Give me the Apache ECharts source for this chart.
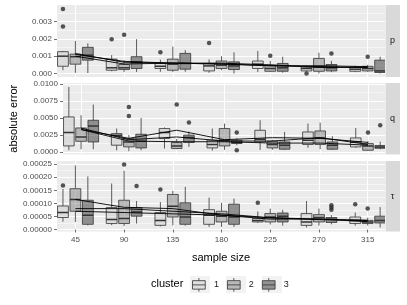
<!DOCTYPE html>
<html><head><meta charset="utf-8">
<script src="https://cdn.jsdelivr.net/npm/echarts@6/dist/echarts.min.js"></script>
<style>html,body{margin:0;padding:0;background:#fff}#c{width:407px;height:305px}</style>
</head><body><div id="c"></div>
<script>
// ---------------- DATA ----------------
const sampleSizes = [45, 90, 135, 180, 225, 270, 315];
const clusterNames = ['1', '2', '3'];
const panelNames = ['p', 'q', 'τ'];

// tick labels
const yTicksP = [0, 0.001, 0.002, 0.003];
const yTicksQ = [0, 0.0025, 0.005, 0.0075, 0.01];
const yTicksT = [0, 0.00005, 0.0001, 0.00015, 0.0002, 0.00025];
const yMinorP = [0.0005, 0.0015, 0.0025, 0.0035];
const yMinorQ = [0.00125, 0.00375, 0.00625, 0.00875];
const yMinorT = [0.000025, 0.000075, 0.000125, 0.000175, 0.000225];

// box stats [min, q1, median, q3, max], one row per sample size
// panel p (units of 1e-3)
const pBox1 = [[0.19,0.42,1.00,1.26,1.30],[0.13,0.19,0.33,0.83,1.06],[0.10,0.29,0.42,0.58,0.80],[0.04,0.15,0.44,0.58,0.81],[0.09,0.29,0.54,0.72,1.30],[0.10,0.15,0.29,0.38,0.45],[0.08,0.13,0.25,0.38,0.45]];
const pBox2 = [[0.04,0.54,0.97,1.12,1.88],[0.09,0.23,0.33,0.52,0.77],[0.09,0.19,0.54,0.83,1.55],[0.19,0.29,0.48,0.72,1.00],[0.09,0.13,0.29,0.48,0.73],[0.00,0.13,0.38,0.87,1.20],[0.10,0.15,0.29,0.42,0.50]];
const pBox3 = [[0.03,0.77,1.06,1.51,1.74],[0.09,0.29,0.67,0.97,1.98],[0.10,0.25,0.58,1.16,1.35],[0.00,0.23,0.44,0.67,1.22],[0.05,0.13,0.33,0.58,0.97],[0.08,0.15,0.33,0.52,0.73],[0.00,0.06,0.15,0.77,0.97]];
const pOut1 = [[45,3.72],[45,2.71],[90,1.98],[135,1.22],[180,1.76],[270,0.00]];
const pOut2 = [[90,2.24],[225,1.02],[315,0.97]];
const pOut3 = [[270,1.16]];
const pMean1 = [1.00, 0.55, 0.60, 0.60, 0.50, 0.35, 0.35];
const pMean2 = [1.15, 0.65, 0.60, 0.55, 0.45, 0.45, 0.40];
const pMean3 = [1.10, 0.70, 0.60, 0.55, 0.45, 0.40, 0.35];

// panel q (units of 1e-3)
const qBox1 = [[0.25,0.88,2.85,5.15,9.56],[0.25,0.99,2.46,2.70,3.44],[0.50,1.97,2.85,3.44,3.60],[0.20,0.59,1.09,1.72,3.44],[0.30,1.47,1.87,3.19,4.66],[0.60,1.09,1.72,2.94,4.17],[0.60,0.74,1.47,2.06,3.53]];
const qBox2 = [[0.40,1.57,2.20,3.53,5.40],[0.10,0.74,1.47,1.97,2.50],[0.40,0.50,0.88,1.38,1.90],[0.30,0.88,1.72,3.44,4.17],[0.30,0.59,1.09,1.57,1.80],[0.40,1.09,2.06,3.09,4.32],[0.15,0.25,0.88,1.23,1.60]];
const qBox3 = [[0.40,1.47,3.82,4.66,6.97],[0.25,0.59,1.57,2.60,5.00],[0.74,1.38,2.12,2.46,3.00],[1.00,1.25,1.40,1.72,2.00],[0.30,0.40,1.00,1.47,2.94],[0.30,0.40,1.00,1.47,2.30],[0.40,0.54,0.74,0.94,1.50]];
const qOut1 = [];
const qOut2 = [[90,6.60],[90,5.30],[135,6.97],[315,2.85]];
const qOut3 = [[135,4.32],[180,2.85],[180,0.25],[315,3.93]];
const qMean1 = [3.3, 2.0, 3.2, 1.8, 2.1, 2.0, 1.4];
const qMean2 = [3.5, 1.8, 2.2, 1.6, 1.6, 2.1, 1.1];
const qMean3 = [3.3, 1.6, 1.5, 1.5, 1.3, 1.3, 1.0];

// panel tau (units of 1e-5)
const tBox1 = [[3.0,4.6,6.5,9.0,15.5],[1.7,2.3,3.8,8.4,17.6],[1.2,1.6,3.5,6.5,10.5],[1.0,2.0,5.5,7.6,12.2],[2.5,2.9,3.5,4.2,6.9],[0.8,1.6,2.9,6.1,10.9],[1.5,2.3,3.5,4.8,6.5]];
const tBox2 = [[2.9,7.0,11.5,15.6,24.5],[1.3,2.3,4.2,11.2,22.5],[1.6,4.8,8.9,13.4,14.8],[1.0,2.9,5.1,7.0,10.2],[1.9,2.9,4.8,6.1,8.0],[1.5,2.9,4.6,5.7,8.0],[1.5,2.3,2.9,3.5,4.5]];
const tBox3 = [[1.6,2.0,5.5,11.2,20.3],[2.3,5.1,6.7,8.4,10.9],[1.5,2.0,4.8,10.2,16.3],[1.0,2.0,4.8,9.7,11.8],[1.5,2.9,5.1,6.3,7.5],[2.0,2.7,3.9,4.6,5.5],[0.8,2.5,3.5,5.1,8.6]];
const tOut1 = [[45,16.8],[135,15.3],[225,10.2],[315,9.7]];
const tOut2 = [[90,24.9],[315,8.0]];
const tOut3 = [[90,16.6],[270,9.3],[270,8.4],[270,7.6]];
const tMean1 = [7.0, 6.5, 6.0, 5.5, 4.0, 4.0, 3.5];
const tMean2 = [11.5, 8.5, 8.0, 5.5, 4.5, 4.0, 3.0];
const tMean3 = [8.0, 8.0, 7.0, 6.0, 4.5, 3.8, 3.5];

// ---------------- STYLE / LAYOUT ----------------
const FONT = 'Liberation Sans, Arial, sans-serif';
const FILLS = ['rgba(204,204,204,0.5)', 'rgba(127,127,127,0.5)', 'rgba(51,51,51,0.5)'];
const DODGE = [-11.5, 0, 11.5];
const BOX_W = 10;
const X_MIN = 28, X_MAX = 331;
const GRID_LEFT = 57, GRID_W = 328;
const GRID_TOP = [5, 83, 161];
const GRID_H = [72, 71.5, 70.5];
const Y_MIN = [-0.0002, -0.00038, -0.0000075];
const Y_MAX = [0.00395, 0.01015, 0.000262];
const DEC = [3, 4, 5];

const panels = [
  {scale: 1e-3, boxes: [pBox1, pBox2, pBox3], outs: [pOut1, pOut2, pOut3], means: [pMean1, pMean2, pMean3], ticks: yTicksP, minor: yMinorP},
  {scale: 1e-3, boxes: [qBox1, qBox2, qBox3], outs: [qOut1, qOut2, qOut3], means: [qMean1, qMean2, qMean3], ticks: yTicksQ, minor: yMinorQ},
  {scale: 1e-5, boxes: [tBox1, tBox2, tBox3], outs: [tOut1, tOut2, tOut3], means: [tMean1, tMean2, tMean3], ticks: yTicksT, minor: yMinorT}
];

function renderBox(params, api) {
  const x = api.value(0);
  const lo = api.coord([x, api.value(1)]);
  const q1 = api.coord([x, api.value(2)]);
  const md = api.coord([x, api.value(3)]);
  const q3 = api.coord([x, api.value(4)]);
  const hi = api.coord([x, api.value(5)]);
  const w = api.size([BOX_W, 0])[0];
  const cx = lo[0];
  const ln = {stroke: '#333333', lineWidth: 0.8};
  return {type: 'group', children: [
    {type: 'line', shape: {x1: cx, y1: hi[1], x2: cx, y2: q3[1]}, style: ln},
    {type: 'line', shape: {x1: cx, y1: q1[1], x2: cx, y2: lo[1]}, style: ln},
    {type: 'rect', shape: {x: cx - w / 2, y: q3[1], width: w, height: q1[1] - q3[1]},
      style: {fill: api.visual('color'), stroke: '#333333', lineWidth: 0.8}},
    {type: 'line', shape: {x1: cx - w / 2, y1: md[1], x2: cx + w / 2, y2: md[1]}, style: {stroke: '#333333', lineWidth: 1.5}}
  ]};
}

const grids = [], xAxes = [], yAxes = [], series = [];
for (let i = 0; i < 3; i++) {
  grids.push({left: GRID_LEFT, width: GRID_W, top: GRID_TOP[i], height: GRID_H[i], show: true, backgroundColor: '#EBEBEB', borderWidth: 0});
}
for (let i = 0; i < 3; i++) {
  grids.push({left: GRID_LEFT + GRID_W + 0.5, width: 14.5, top: GRID_TOP[i], height: GRID_H[i], show: true, backgroundColor: '#D9D9D9', borderWidth: 0});
}
// main x axes 0..2
for (let i = 0; i < 3; i++) {
  const bottom = i === 2;
  xAxes.push({
    gridIndex: i, type: 'value', min: X_MIN, max: X_MAX,
    axisLine: {show: false},
    axisTick: {show: bottom, length: 3, lineStyle: {color: '#333333', width: 0.7}, customValues: sampleSizes},
    axisLabel: {show: bottom, customValues: sampleSizes, fontSize: 8, color: '#4D4D4D', margin: 4, fontFamily: FONT},
    splitLine: {show: true, lineStyle: {color: '#FFFFFF', width: 1}},
    name: bottom ? 'sample size' : '', nameLocation: 'middle', nameGap: 21,
    nameTextStyle: {fontSize: 11, color: '#000', fontFamily: FONT}
  });
}
// strip x axes 3..5
for (let i = 0; i < 3; i++) {
  xAxes.push({gridIndex: 3 + i, type: 'value', show: false});
}
// main y axes 0..2
for (let i = 0; i < 3; i++) {
  const pn = panels[i];
  yAxes.push({
    gridIndex: i, type: 'value', min: Y_MIN[i], max: Y_MAX[i], position: 'left',
    axisLine: {show: false},
    axisTick: {show: true, length: 3, lineStyle: {color: '#333333', width: 0.7}, customValues: pn.ticks},
    axisLabel: {show: true, customValues: pn.ticks, formatter: (v) => Number(v).toFixed(DEC[i]), fontSize: 8, color: '#4D4D4D', margin: 5, fontFamily: FONT},
    splitLine: {show: true, lineStyle: {color: '#FFFFFF', width: 1}},
    name: i === 1 ? 'absolute error' : '', nameLocation: 'middle', nameGap: 44, nameRotate: 90,
    nameTextStyle: {fontSize: 11, color: '#000', fontFamily: FONT}
  });
}
// minor y axes 3..5
for (let i = 0; i < 3; i++) {
  const pn = panels[i];
  yAxes.push({
    gridIndex: i, type: 'value', min: Y_MIN[i], max: Y_MAX[i], position: 'left', offset: 0,
    axisLine: {show: false},
    axisTick: {show: false, customValues: pn.minor},
    axisLabel: {show: false, customValues: pn.minor},
    splitLine: {show: true, lineStyle: {color: '#FFFFFF', width: 0.5}}
  });
}
// strip y axes 6..8 (carry the strip labels)
for (let i = 0; i < 3; i++) {
  yAxes.push({
    gridIndex: 3 + i, type: 'value', position: 'right',
    axisLine: {show: false}, axisTick: {show: false}, axisLabel: {show: false}, splitLine: {show: false},
    name: panelNames[i], nameLocation: 'middle', nameRotate: 0, nameGap: -7.5,
    nameTextStyle: {fontSize: 9, color: '#1A1A1A', fontFamily: FONT, align: 'center', verticalAlign: 'middle'}
  });
}

for (let i = 0; i < 3; i++) {
  const pn = panels[i];
  for (let c = 0; c < 3; c++) {
    series.push({
      type: 'custom', name: clusterNames[c], xAxisIndex: i, yAxisIndex: i,
      renderItem: renderBox, clip: true,
      itemStyle: {color: FILLS[c], borderColor: '#333333', borderWidth: 0.8},
      encode: {x: 0, y: [1, 2, 3, 4, 5]},
      data: pn.boxes[c].map((s, k) => [sampleSizes[k] + DODGE[c]].concat(s.map(v => v * pn.scale))),
      z: 2
    });
    series.push({
      type: 'scatter', name: 'out' + i + c, xAxisIndex: i, yAxisIndex: i,
      symbolSize: 4.5, itemStyle: {color: '#2B2B2B'},
      data: pn.outs[c].map(d => [d[0] + DODGE[c], d[1] * pn.scale]),
      z: 3, silent: true
    });
  }
  for (let c = 0; c < 3; c++) {
    series.push({
      type: 'line', name: 'mean' + i + c, xAxisIndex: i, yAxisIndex: i,
      showSymbol: false, symbol: 'none',
      lineStyle: {color: '#000000', width: 0.9},
      data: pn.means[c].map((v, k) => [sampleSizes[k], v * pn.scale]),
      z: 4, silent: true
    });
  }
}

const KEY_PATH = 'path://M0,0 M20,20 M10,2 L10,5 M2.5,5 L17.5,5 L17.5,15 L2.5,15 Z M2.5,10 L17.5,10 M10,15 L10,18';

const chart = echarts.init(document.getElementById('c'), null, {renderer: 'canvas'});
chart.setOption({
  animation: false,
  backgroundColor: '#FFFFFF',
  textStyle: {fontFamily: FONT},
  title: {text: 'cluster', left: 151, top: 278, padding: 0,
    textStyle: {fontSize: 11, fontWeight: 'normal', color: '#000', fontFamily: FONT}},
  legend: [
    {data: clusterNames, left: 190, top: 276, padding: 0, orient: 'horizontal',
      itemWidth: 20, itemHeight: 17, itemGap: 6, icon: 'rect', selectedMode: false,
      itemStyle: {color: '#F2F2F2', borderWidth: 0},
      textStyle: {color: 'rgba(0,0,0,0)', fontSize: 9, fontFamily: FONT}},
    {data: clusterNames.map(n => ({name: n, icon: KEY_PATH})), left: 190, top: 276, padding: 0, orient: 'horizontal',
      itemWidth: 20, itemHeight: 17, itemGap: 6, selectedMode: false,
      itemStyle: {borderColor: '#333333', borderWidth: 0.8},
      textStyle: {color: '#1A1A1A', fontSize: 9, fontFamily: FONT}}
  ],
  grid: grids, xAxis: xAxes, yAxis: yAxes, series: series
});
</script></body></html>
